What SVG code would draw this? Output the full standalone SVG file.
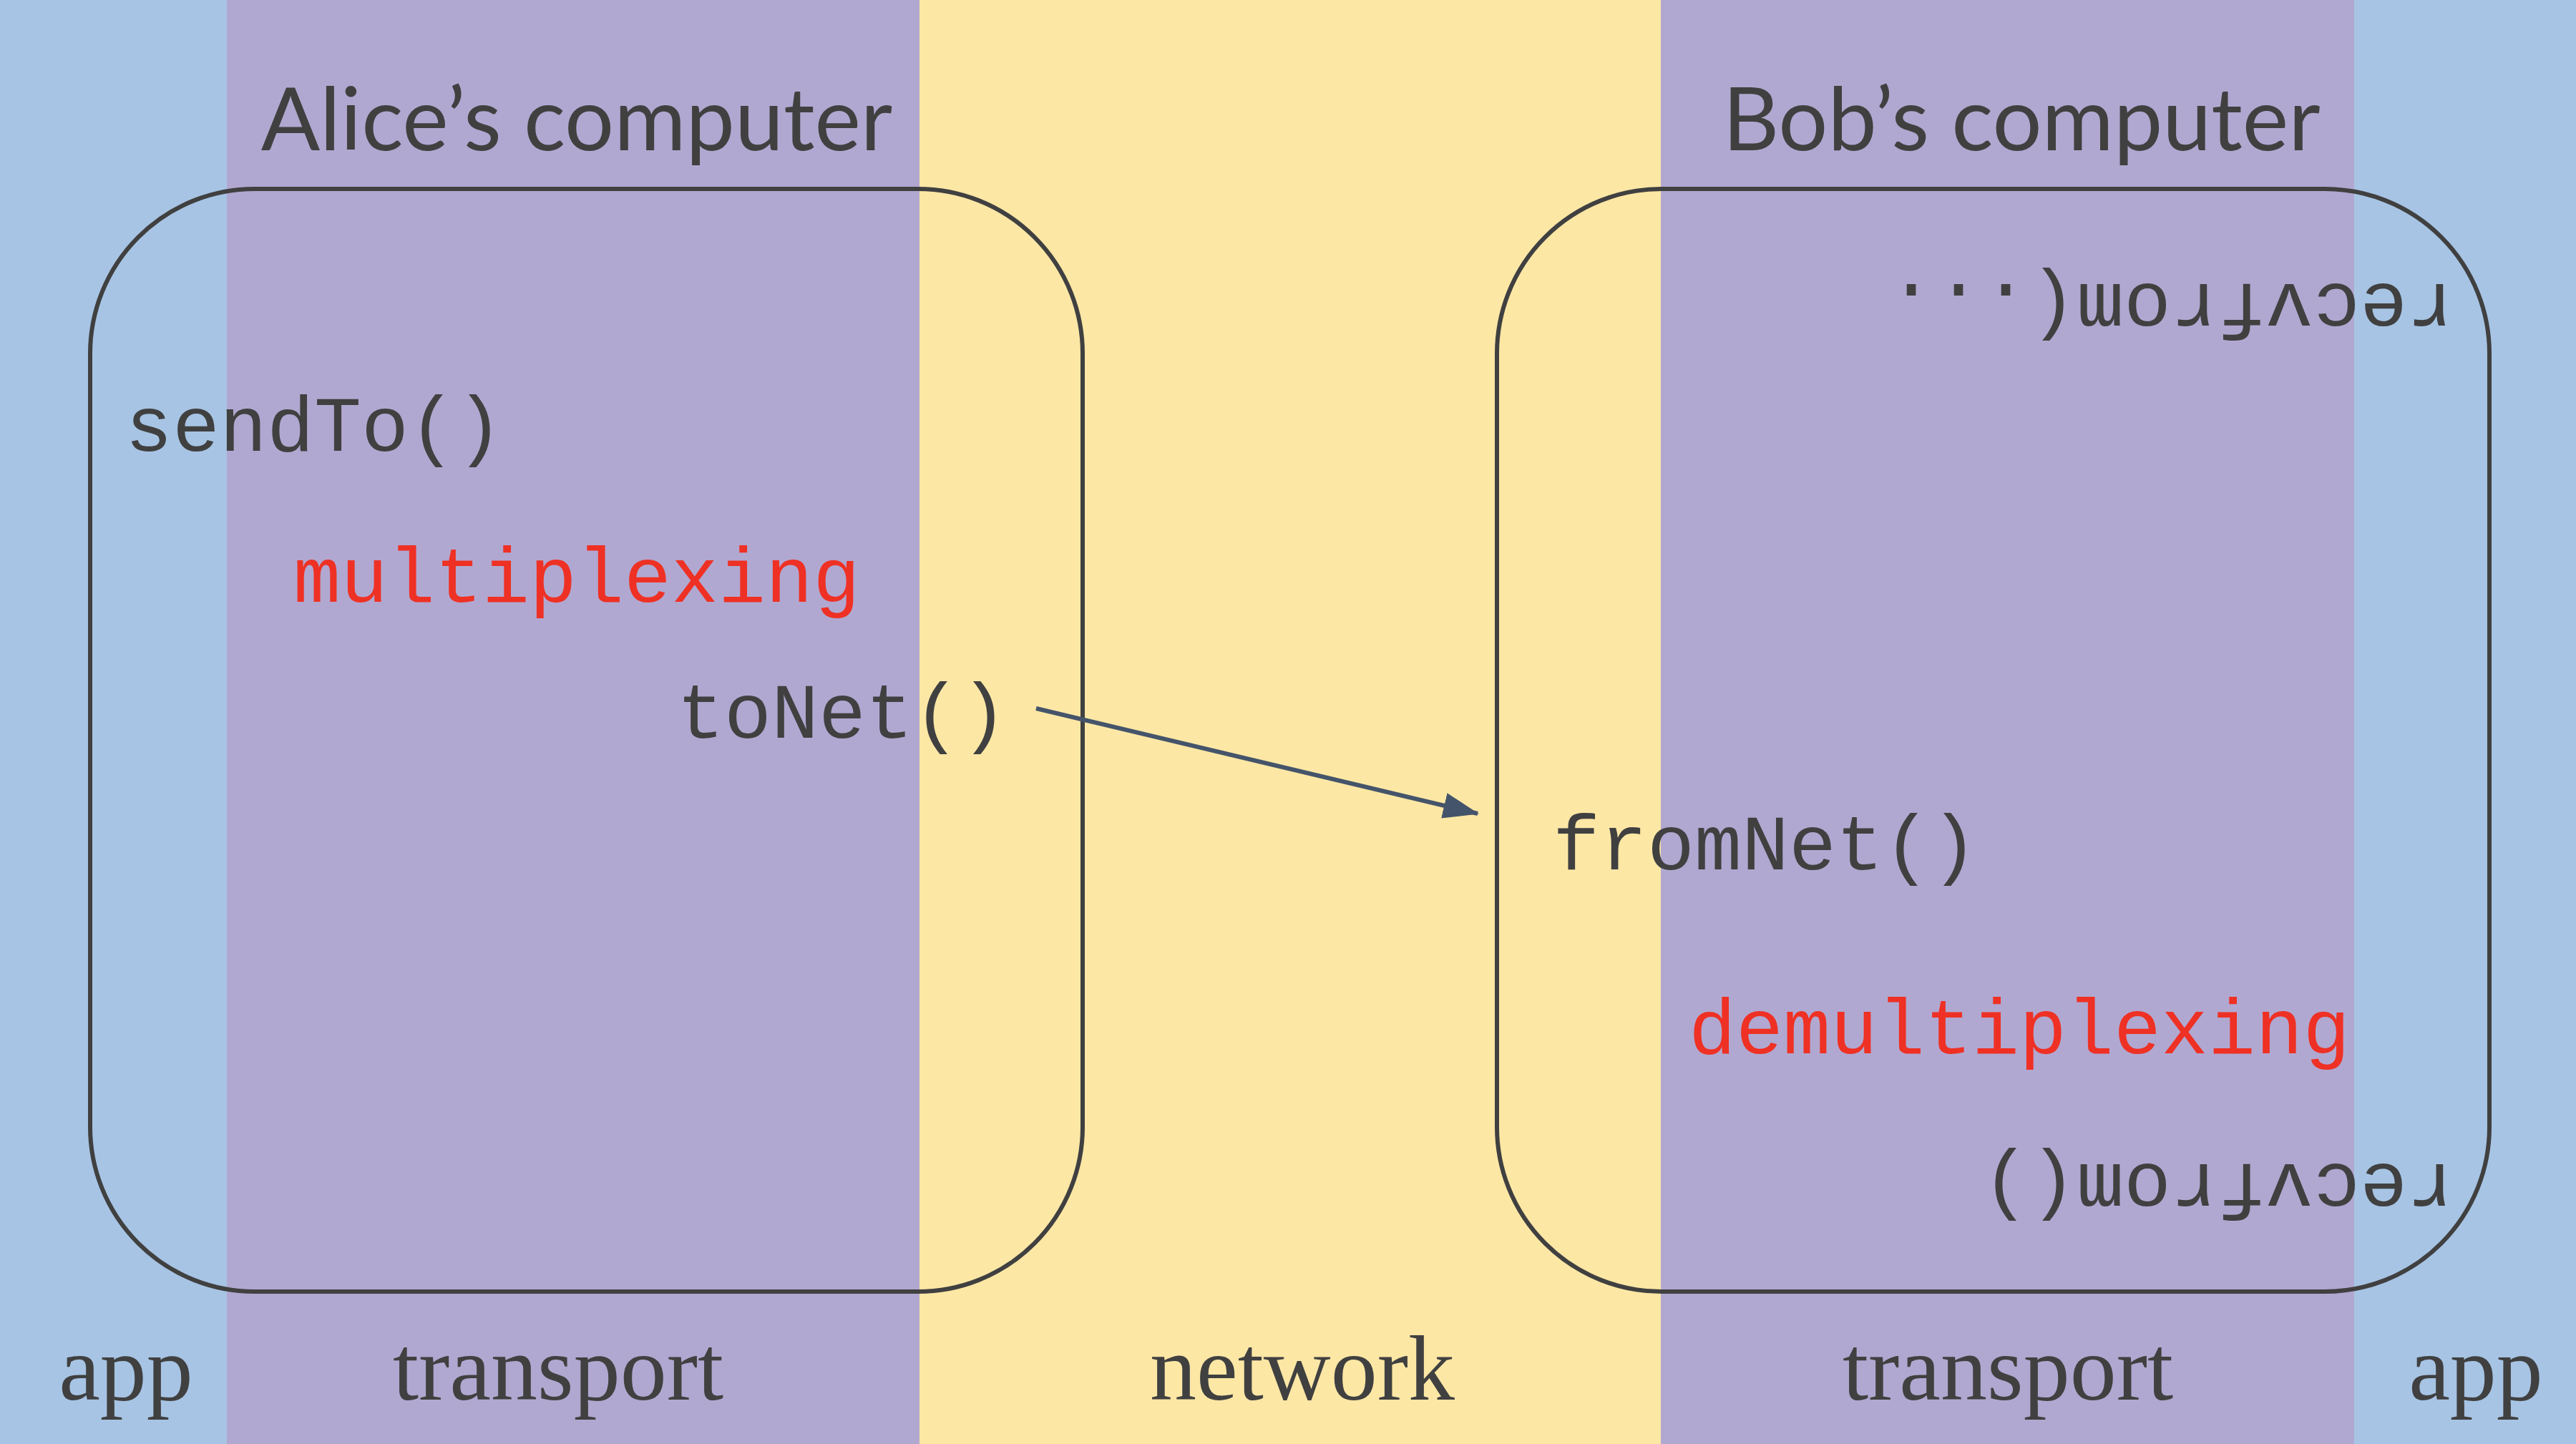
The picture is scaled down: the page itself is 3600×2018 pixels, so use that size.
<svg xmlns="http://www.w3.org/2000/svg" width="3600" height="2018" viewBox="0 0 3600 2018">
<style>
.box{fill:none;stroke:#404040;stroke-width:6}
.title{font-family:Lato,"Open Sans",sans-serif;font-size:122px;fill:#404040;text-anchor:middle}
.mono{font-family:"Liberation Mono","Courier New",monospace;font-size:110px;fill:#404040}
.red{fill:#EE3124}
.layer{font-family:"Liberation Serif","Times New Roman",serif;font-size:130px;fill:#404040;text-anchor:middle}
.conn{stroke:#44546A;stroke-width:6;fill:none}
</style>
<defs>
<marker id="ah" markerUnits="userSpaceOnUse" markerWidth="50" markerHeight="36" refX="48" refY="18" orient="auto">
<polygon points="0,0 50,18 0,36" fill="#44546A"/>
</marker>
</defs>
<g id="bands">
<rect x="0" y="0" width="317" height="2018" fill="#A7C4E4"/>
<rect x="317" y="0" width="968" height="2018" fill="#B1A8D1"/>
<rect x="1285" y="0" width="1036" height="2018" fill="#FCE7A5"/>
<rect x="2321" y="0" width="969" height="2018" fill="#B1A8D1"/>
<rect x="3290" y="0" width="310" height="2018" fill="#A7C4E4"/>
</g>
<g id="alice">
<rect class="box" x="126" y="264" width="1387" height="1541" rx="230" ry="230"/>
<text class="title" x="806" y="210">Alice’s computer</text>
</g>
<g id="bob">
<rect class="box" x="2092" y="264" width="1387" height="1541" rx="230" ry="230"/>
<text class="title" x="2825" y="210">Bob’s computer</text>
</g>
<g id="sendTo"><text class="mono" x="175" y="630">sendTo()</text></g>
<g id="multiplexing"><text class="mono red" x="410" y="841">multiplexing</text></g>
<g id="toNet"><text class="mono" x="946" y="1031">toNet()</text></g>
<g id="fromNet"><text class="mono" x="2170" y="1215">fromNet()</text></g>
<g id="demultiplexing"><text class="mono red" x="2360" y="1472">demultiplexing</text></g>
<g id="recvfrom1"><text class="mono" transform="translate(3430,397) rotate(180)" x="0" y="0">recvfrom(...</text></g>
<g id="recvfrom2"><text class="mono" transform="translate(3430,1627) rotate(180)" x="0" y="0">recvfrom()</text></g>
<g id="connectors">
<line class="conn" x1="1448" y1="990" x2="2065" y2="1137" marker-end="url(#ah)"/>
</g>
<g id="layers">
<text class="layer" x="176" y="1956">app</text>
<text class="layer" x="780" y="1956">transport</text>
<text class="layer" x="1820" y="1956">network</text>
<text class="layer" x="2806" y="1956">transport</text>
<text class="layer" x="3460" y="1956">app</text>
</g>
</svg>
